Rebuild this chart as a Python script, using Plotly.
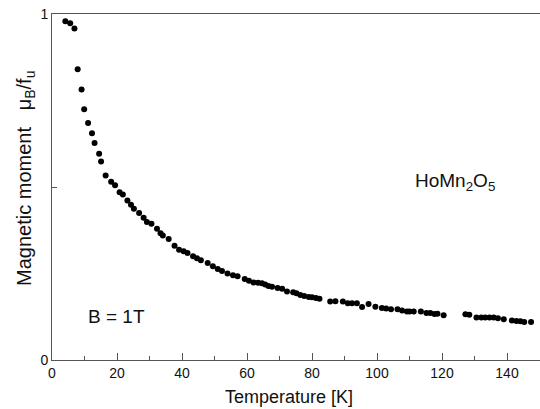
import plotly.graph_objects as go

temperature = [4.1, 5.6, 6.9, 7.9, 9.1, 9.9, 11.1, 12.3, 13.1, 14.5, 15.1, 16.5, 18.2, 19.4,
               20.8, 21.8, 23.2, 24.3, 25.2, 26.8, 28.2, 29.2, 30.6, 32.3, 33.4, 34.1, 35.9,
               37.7, 39.1, 40.5, 41.7, 43.4, 44.6, 45.8, 47.9, 49.5, 51.0, 52.3, 54.0, 55.7,
               57.1, 59.3, 60.6, 62.0, 63.4, 64.6, 65.6, 66.6, 67.7, 69.4, 70.8, 72.3, 74.2,
               75.2, 76.4, 77.6, 79.0, 80.0, 81.2, 82.3, 85.6, 87.2, 89.5, 91.0, 92.3, 93.8,
               95.4, 97.4, 99.5, 101.5, 102.8, 104.3, 106.3, 107.7, 109.2, 110.0, 111.3, 113.5,
               115.2, 116.4, 117.7, 118.6, 120.5, 127.2, 128.4, 130.6, 132.1, 133.3, 134.6,
               135.9, 137.2, 139.0, 141.5, 142.9, 144.1, 145.3, 147.4]
moment = [0.979, 0.973, 0.958, 0.840, 0.782, 0.725, 0.685, 0.655, 0.627, 0.596, 0.574, 0.533,
          0.515, 0.505, 0.485, 0.478, 0.461, 0.449, 0.437, 0.425, 0.411, 0.399, 0.394, 0.379,
          0.366, 0.360, 0.350, 0.330, 0.319, 0.314, 0.309, 0.300, 0.294, 0.288, 0.280, 0.271,
          0.263, 0.257, 0.250, 0.245, 0.242, 0.234, 0.229, 0.224, 0.223, 0.222, 0.218, 0.214,
          0.212, 0.208, 0.206, 0.198, 0.196, 0.193, 0.188, 0.185, 0.182, 0.181, 0.179, 0.177,
          0.169, 0.170, 0.169, 0.164, 0.164, 0.164, 0.153, 0.162, 0.154, 0.150, 0.149, 0.147,
          0.147, 0.143, 0.140, 0.140, 0.140, 0.140, 0.136, 0.136, 0.133, 0.134, 0.129, 0.132,
          0.131, 0.123, 0.123, 0.123, 0.123, 0.123, 0.121, 0.118, 0.114, 0.113, 0.112, 0.110,
          0.110]

x_ticks = [0, 20, 40, 60, 80, 100, 120, 140]
x_minor = [10, 30, 50, 70, 90, 110, 130]
y_tickvals = [0, 0.5, 1]
y_ticktext = ["0", "", "1"]

font = "Liberation Sans, Arial, sans-serif"
axcol = "#555555"
txtcol = "#111111"

fig = go.Figure()
fig.add_trace(go.Scatter(x=temperature, y=moment, mode="markers",
                         marker=dict(size=6, color="black"), showlegend=False))

fig.update_layout(
    width=540, height=409,
    margin=dict(l=52, r=0, t=14, b=49),
    plot_bgcolor="white", paper_bgcolor="white",
    font=dict(family=font, size=14, color=txtcol),
    xaxis=dict(range=[0, 150.15], tickvals=x_ticks, ticks="inside", ticklen=7,
               tickcolor=axcol, showline=True, linecolor=axcol, linewidth=1, mirror=True,
               showgrid=False, zeroline=False, automargin=False,
               minor=dict(tickvals=x_minor, ticks="inside", ticklen=4, tickcolor=axcol),
               tickfont=dict(size=14, color=txtcol)),
    yaxis=dict(range=[0, 1], tickvals=y_tickvals, ticktext=y_ticktext, ticks="inside",
               ticklen=5, tickcolor=axcol, showline=True, linecolor=axcol, linewidth=1,
               mirror=False, showgrid=False, zeroline=False, automargin=False,
               tickfont=dict(size=14, color=txtcol)),
)

fig.add_annotation(xref="paper", yref="paper", x=0.485, y=-0.107, xanchor="center",
                   yanchor="middle", showarrow=False, text="Temperature [K]",
                   font=dict(size=18, family=font, color=txtcol))
fig.add_annotation(xref="paper", yref="paper", x=-0.0554, y=0.526, xanchor="center",
                   yanchor="middle", textangle=-90, showarrow=False,
                   text="Magnetic moment   μ<sub>B</sub>/f<sub>u</sub>",
                   font=dict(size=20, family=font, color=txtcol))
fig.add_annotation(xref="x", yref="y", x=111, y=0.515, xanchor="left", yanchor="middle",
                   showarrow=False, text="HoMn<sub>2</sub>O<sub>5</sub>",
                   font=dict(size=19, family=font, color=txtcol))
fig.add_annotation(xref="x", yref="y", x=10.5, y=0.125, xanchor="left", yanchor="middle",
                   showarrow=False, text="B = 1T",
                   font=dict(size=19, family=font, color=txtcol))

fig.write_html("out.html", config={"displayModeBar": False},
               post_script="document.body.style.margin='0';document.body.style.overflow='hidden';")
